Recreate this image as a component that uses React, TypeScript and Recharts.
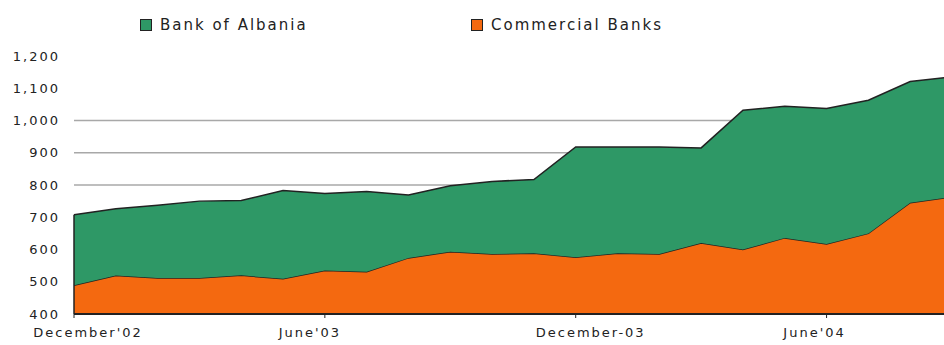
import React from "react";
import { AreaChart, Area, XAxis, YAxis, CartesianGrid, Legend, ReferenceLine } from "recharts";

const months = [
  "Dec-02", "Jan-03", "Feb-03", "Mar-03", "Apr-03", "May-03", "Jun-03", "Jul-03",
  "Aug-03", "Sep-03", "Oct-03", "Nov-03", "Dec-03", "Jan-04", "Feb-04", "Mar-04",
  "Apr-04", "May-04", "Jun-04", "Jul-04", "Aug-04", "Sep-04",
];
const commercialBanks = [489, 519, 512, 512, 520, 509, 535, 531, 574, 593, 586, 588, 576, 588, 586, 620, 600, 636, 617, 650, 745, 763];
const bankOfAlbania = [219, 207, 225, 238, 232, 274, 239, 249, 195, 205, 225, 229, 342, 330, 332, 295, 432, 408, 420, 413, 376, 372];

const tickLabels: Record<string, string> = {
  "Dec-02": "December'02",
  "Jun-03": "June'03",
  "Dec-03": "December-03",
  "Jun-04": "June'04",
};
const tickLabelShift: Record<string, number> = {
  "Dec-02": 14,
  "Jun-03": -15,
  "Dec-03": 15,
  "Jun-04": -12,
};
const yTicks = [400, 500, 600, 700, 800, 900, 1000, 1100, 1200];
const gridValues = [800, 900, 1000];

const seriesNames = { boa: "Bank of Albania", cb: "Commercial Banks" };
const GREEN = "#2e9866";
const ORANGE = "#f46910";

const data = months.map((m, i) => ({
  month: m,
  cb: commercialBanks[i],
  boa: bankOfAlbania[i],
}));

const FONT = "'DejaVu Sans', sans-serif";

const fmt = (v: number) => v.toLocaleString("en-US");

const YTick = (props: any) => {
  const { x, y, payload } = props;
  return (
    <text x={x} y={y} dy="0.36em" textAnchor="end" fontFamily={FONT} fontSize={13} letterSpacing={2} fill="#222">
      {fmt(payload.value)}
    </text>
  );
};

const XTick = (props: any) => {
  const { x, y, payload } = props;
  const label = tickLabels[payload.value] ?? "";
  const shift = tickLabelShift[payload.value] ?? 0;
  return (
    <text x={x + shift} y={y + 1} dy="0.71em" textAnchor="middle" fontFamily={FONT} fontSize={13} letterSpacing={2} fill="#222">
      {label}
    </text>
  );
};

const LegendContent = () => {
  const items = [
    { name: seriesNames.boa, color: GREEN, width: 331 },
    { name: seriesNames.cb, color: ORANGE, width: 220 },
  ];
  return (
    <div style={{ display: "flex", alignItems: "center", marginLeft: 140 }}>
      {items.map((it) => (
        <div key={it.name} style={{ display: "flex", alignItems: "center", width: it.width }}>
          <div style={{ width: 10, height: 10, background: it.color, border: "1px solid #222" }} />
          <span style={{ marginLeft: 8, fontFamily: FONT, fontSize: 15, letterSpacing: 2, color: "#222", lineHeight: "18px", whiteSpace: "nowrap" }}>
            {it.name}
          </span>
        </div>
      ))}
    </div>
  );
};

export default function App() {
  const firstTotal = commercialBanks[0] + bankOfAlbania[0];
  return (
    <div style={{ position: "fixed", left: 0, top: 0, width: 944, height: 345, overflow: "hidden", background: "#fff" }}>
      <AreaChart width={952} height={345} data={data} margin={{ top: 38, right: 0, bottom: 0, left: 0 }}>
        <CartesianGrid horizontal={true} vertical={false} horizontalValues={gridValues} stroke="#a8a8a8" strokeWidth={1.5} />
        <XAxis
          dataKey="month"
          interval={5}
          height={31}
          axisLine={{ stroke: "#222", strokeWidth: 2 }}
          tickLine={{ stroke: "#222" }}
          tickSize={4}
          tickMargin={9}
          tick={<XTick />}
        />
        <YAxis
          domain={[400, 1200]}
          ticks={yTicks}
          allowDataOverflow
          width={74}
          axisLine={false}
          tickLine={false}
          tickSize={12}
          tickMargin={2}
          tick={<YTick />}
        />
        <Legend verticalAlign="top" content={<LegendContent />} wrapperStyle={{ top: 16, left: 0 }} />
        <Area type="linear" dataKey="cb" name={seriesNames.cb} stackId="1" stroke="#222" strokeWidth={1.5} fill={ORANGE} fillOpacity={1} isAnimationActive={false} />
        <Area type="linear" dataKey="boa" name={seriesNames.boa} stackId="1" stroke="#222" strokeWidth={1.5} fill={GREEN} fillOpacity={1} isAnimationActive={false} />
        <ReferenceLine
          segment={[{ x: months[0], y: 400 }, { x: months[0], y: firstTotal }]}
          stroke="#222"
          strokeWidth={1.5}
        />
      </AreaChart>
    </div>
  );
}
